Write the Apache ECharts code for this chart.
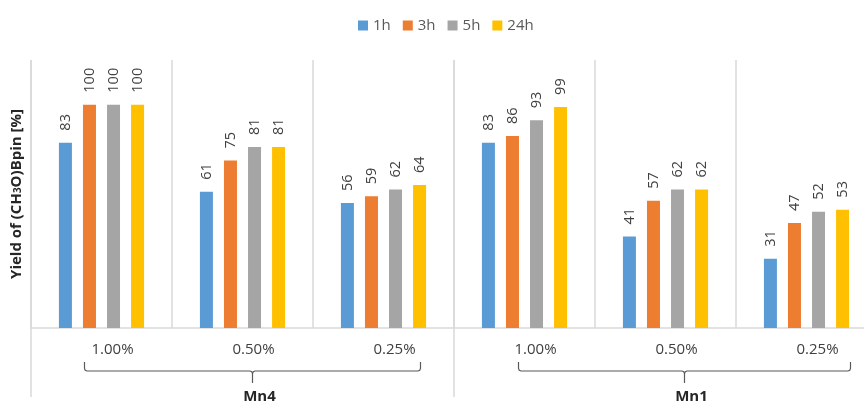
<!DOCTYPE html>
<html>
<head>
<meta charset="utf-8">
<script src="https://cdn.jsdelivr.net/npm/echarts@6/dist/echarts.min.js"></script>
<style>
  html, body { margin: 0; padding: 0; background: #ffffff; }
  #chart { width: 864px; height: 404px; }
</style>
</head>
<body>
<div id="chart"></div>
<script>
// Catalyst loading per group, and the catalyst each group of three belongs to
const loadings = ['1.00%', '0.50%', '0.25%', '1.00%', '0.50%', '0.25%'];
const catalysts = ['Mn4', 'Mn1'];
const seriesNames = ['1h', '3h', '5h', '24h'];

// Yield (%) after each reaction time
const yield1h  = [83, 61, 56, 83, 41, 31];
const yield3h  = [100, 75, 59, 86, 57, 47];
const yield5h  = [100, 81, 62, 93, 62, 52];
const yield24h = [100, 81, 64, 99, 62, 53];

const colors = ['#5B9BD5', '#ED7D31', '#A5A5A5', '#FFC000'];
const FONT = '"Open Sans", "Noto Sans", sans-serif';

const chart = echarts.init(document.getElementById('chart'), null, { renderer: 'canvas' });

const allData = [yield1h, yield3h, yield5h, yield24h];

const option = {
  animation: false,
  color: colors,
  textStyle: { fontFamily: FONT },
  legend: {
    top: 13,
    left: 353,
    icon: 'rect',
    itemWidth: 10,
    itemHeight: 10,
    itemGap: 12,
    textStyle: { fontSize: 15, color: '#595959', fontFamily: FONT },
    data: seriesNames
  },
  // the last group runs past the right edge of the canvas
  grid: { left: 31, width: 846, top: 60, bottom: 76, containLabel: false, outerBoundsMode: 'none' },
  xAxis: {
    type: 'category',
    data: loadings,
    axisLine: { show: true, lineStyle: { color: '#d9d9d9', width: 1.5 } },
    axisTick: { show: false },
    splitLine: { show: true, lineStyle: { color: '#d9d9d9', width: 1.5 } },
    axisLabel: {
      margin: 14,
      fontSize: 15,
      color: '#404040',
      fontFamily: FONT,
      padding: [0, 0, 0, 22],
      interval: 0
    }
  },
  yAxis: {
    type: 'value',
    min: 0,
    max: 120,
    axisLine: { show: false },
    axisTick: { show: false },
    axisLabel: { show: false },
    splitLine: { show: false },
    name: '{t|Yield of (CH}{s|3}{t|O)Bpin [%]}',
    nameLocation: 'middle',
    nameRotate: 90,
    nameGap: 7,
    nameTextStyle: {
      rich: {
        t: { fontSize: 15, fontWeight: 'bold', color: '#262626', fontFamily: FONT },
        s: { fontSize: 10, fontWeight: 'bold', color: '#262626', fontFamily: FONT, padding: [0, 0, -4, 0] }
      }
    }
  },
  series: seriesNames.map((name, i) => ({
    name: name,
    type: 'bar',
    data: allData[i],
    barWidth: 13,
    barGap: '85%',
    itemStyle: { color: colors[i] },
    label: {
      show: true,
      position: 'top',
      rotate: 90,
      align: 'left',
      verticalAlign: 'middle',
      distance: 12,
      fontSize: 14.5,
      color: '#404040',
      fontFamily: FONT
    }
  }))
};

chart.setOption(option);

// Group braces, catalyst names and the long group dividers, placed from the axis scale
function drawGroups() {
  const px = idx => chart.convertToPixel({ xAxisIndex: 0 }, idx);
  const band = px(1) - px(0);
  const yTop = 60, yBottom = 397;
  const bTop = 362, bLine = 371, bTip = 383;
  const r = 2.5;
  const stroke = { fill: null, stroke: '#595959', lineWidth: 1.2 };
  const graphics = [];
  catalysts.forEach((cat, g) => {
    const first = g * 3, last = g * 3 + 2;
    const x0 = px(first) - 17 + g * 11;
    const x1 = px(last) + 37 + g * 7;
    const mid = (x0 + x1) / 2;
    // left half of the brace, running into the centre tip
    graphics.push({
      type: 'polyline',
      shape: {
        points: [
          [x0, bTop], [x0, bLine - r], [x0 + r * 0.3, bLine - r * 0.3], [x0 + r, bLine],
          [mid - r, bLine], [mid - r * 0.3, bLine + r * 0.3], [mid, bLine + r], [mid, bTip]
        ]
      },
      style: stroke
    });
    // right half of the brace
    graphics.push({
      type: 'polyline',
      shape: {
        points: [
          [mid, bLine + r], [mid + r * 0.3, bLine + r * 0.3], [mid + r, bLine],
          [x1 - r, bLine], [x1 - r * 0.3, bLine - r * 0.3], [x1, bLine - r], [x1, bTop]
        ]
      },
      style: stroke
    });
    graphics.push({
      type: 'text',
      x: mid + 7,
      y: 397,
      style: {
        text: cat,
        fontSize: 15,
        fontWeight: 'bold',
        fill: '#262626',
        fontFamily: FONT,
        align: 'center',
        verticalAlign: 'middle'
      }
    });
    const xd = px(first) - band / 2;
    graphics.push({
      type: 'line',
      shape: { x1: xd, y1: yTop, x2: xd, y2: yBottom },
      style: { stroke: '#d9d9d9', lineWidth: 1.5 }
    });
  });
  chart.setOption({ graphic: graphics });
}
drawGroups();
</script>
</body>
</html>
